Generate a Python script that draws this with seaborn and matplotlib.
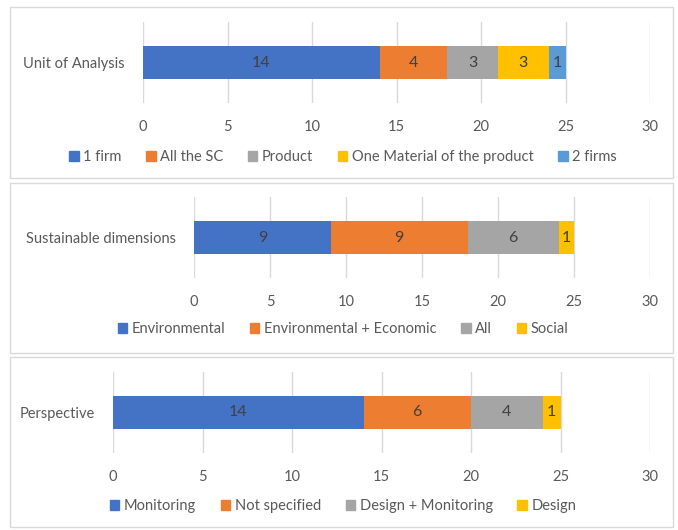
import numpy as np
import matplotlib
matplotlib.use("Agg")
import matplotlib.pyplot as plt
import seaborn as sns
from matplotlib.patches import Patch, Rectangle

# Data
ua_label = "Unit of Analysis"
ua_cats = ["1 firm", "All the SC", "Product", "One Material of the product", "2 firms"]
ua_vals = [14, 4, 3, 3, 1]

sd_label = "Sustainable dimensions"
sd_cats = ["Environmental", "Environmental + Economic", "All", "Social"]
sd_vals = [9, 9, 6, 1]

pe_label = "Perspective"
pe_cats = ["Monitoring", "Not specified", "Design + Monitoring", "Design"]
pe_vals = [14, 6, 4, 1]

ticks = [0, 5, 10, 15, 20, 25, 30]
palette = ["#4472C4", "#ED7D31", "#A5A5A5", "#FFC000", "#5B9BD5"]

sns.set_theme(style="white")
plt.rcParams["font.family"] = ["Lato", "DejaVu Sans"]
text_col = "#595959"

W, H = 678, 530
fig = plt.figure(figsize=(W / 100, H / 100), dpi=100)

# (box top, box bottom, axes left px, axes top px, axes bottom px, legend y px)
panels = [
    (ua_label, ua_cats, ua_vals, 7, 178, 143, 22, 103, 157),
    (sd_label, sd_cats, sd_vals, 183, 353, 194, 197, 278, 329),
    (pe_label, pe_cats, pe_vals, 357, 527, 113, 372, 453, 506),
]

for label, cats, vals, btop, bbot, left, atop, abot, legy in panels:
    # panel frame
    fig.patches.append(Rectangle((10 / W, 1 - bbot / H), 663 / W, (bbot - btop) / H,
                                 transform=fig.transFigure, fill=False,
                                 edgecolor="#D9D9D9", linewidth=1))
    ax = fig.add_axes([left / W, 1 - abot / H, (650 - left) / W, (abot - atop) / H])
    cum = np.cumsum(vals)
    # draw from the total down so each shorter bar sits on top
    for i in range(len(vals) - 1, -1, -1):
        sns.barplot(x=[cum[i]], y=[label], color=palette[i], width=0.4,
                    orient="h", ax=ax, saturation=1, linewidth=0)
    for i, v in enumerate(vals):
        ax.text(cum[i] - v / 2, 0, str(v), ha="center", va="center",
                fontsize=11.5, color="#404040")
    ax.set_xlim(0, 30)
    ax.set_ylim(0.5, -0.5)
    ax.set_xticks(ticks)
    ax.set_xlabel("")
    ax.set_ylabel("")
    for s in ax.spines.values():
        s.set_visible(False)
    ax.grid(axis="x", color="#D9D9D9", linewidth=1)
    ax.set_axisbelow(True)
    ax.tick_params(axis="x", length=0, pad=12, labelsize=10.5, labelcolor=text_col)
    ax.tick_params(axis="y", length=0, pad=13, labelsize=10.5, labelcolor=text_col)
    handles = [Patch(color=palette[i], label=c) for i, c in enumerate(cats)]
    fig.legend(handles=handles, loc="center", bbox_to_anchor=(343 / W, 1 - legy / H),
               ncol=len(cats), frameon=False, fontsize=10.5, labelcolor=text_col,
               handlelength=0.65, handleheight=0.65, handletextpad=0.3,
               columnspacing=1.7, borderpad=0)

fig.savefig("out.png", dpi=100)
